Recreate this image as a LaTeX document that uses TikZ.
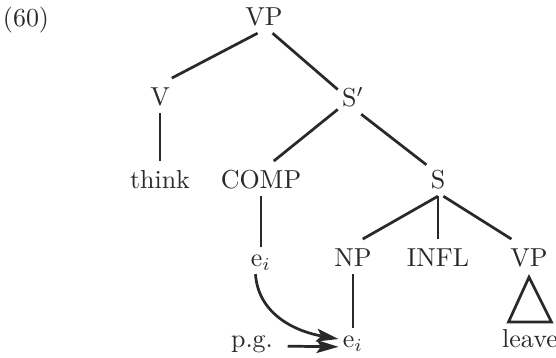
\documentclass[tikz,border=0pt]{standalone}
\usetikzlibrary{arrows.meta,calc}
\definecolor{ink}{gray}{0.16}
\begin{document}
\begin{tikzpicture}[x=0.385pt,y=0.385pt,yscale=-1,xscale=1,
  lbl/.style={anchor=base,inner sep=1.5pt,text height=2.1ex,text depth=.25ex,text=ink},
  lowlbl/.style={lbl,text height=1.4ex},
  edge/.style={draw=ink,line width=1.05pt},
  arr/.style={edge,-{Stealth[length=8.5pt,width=5pt,inset=1.8pt]}}]
\useasboundingbox (0,0) rectangle (556,358);

% Text Node
\draw (26,27) node [anchor=base,text=ink] (ex) {(60)};
% Text Node
\draw (264,26) node [lbl] (vpa) {VP};
% Text Node
\draw (160,106) node [lbl] (v) {V};
% Text Node
\draw (353,107) node [lbl] (sbar) {S$'$};
% Text Node
\draw (160,189) node [lbl] (think) {think};
% Text Node
\draw (261,189) node [lbl] (comp) {COMP};
% Text Node
\draw (438,189) node [lbl] (s) {S};
% Text Node
\draw (261,267) node [lowlbl] (ea) {e$_i$};
% Text Node
\draw (353,267) node [lbl] (np) {NP};
% Text Node
\draw (438,267) node [lbl] (infl) {INFL};
% Text Node
\draw (529,267) node [lbl] (vpb) {VP};
% Text Node
\draw (252,348) node [lowlbl] (pg) {p.g.};
% Text Node
\draw (353,348) node [lowlbl] (eb) {e$_i$};
% Text Node
\draw (530,348) node [lbl] (leave) {leave};

%Straight Lines
\draw [edge] (vpa.-110) -- (v.56);
\draw [edge] (vpa.-64) -- (sbar.155);
\draw [edge] (v.south) -- (think.north);
\draw [edge] (sbar.-140) -- (comp.54);
\draw [edge] (sbar.-65) -- (s.130);
\draw [edge] (comp.south) -- (ea.north);
\draw [edge] (s.south) -- (np.61);
\draw [edge] (s.south) -- (infl.north);
\draw [edge] (s.-73) -- (vpb.135);
\draw [edge] (np.south) -- (eb.north);
%Shape: Triangle
\draw [edge] ($(vpb.south)+(0,3)$) -- ($(leave.north)+(-21.5,2)$) -- ($(leave.north)+(21.5,2)$) -- cycle;
%Curve Lines
\draw [arr] (ea.-112) .. controls +(3,42) and +(-40,-7) .. (eb.170);
%Straight Lines
\draw [arr,shorten <=4pt] (pg.-10) -- (eb.200);

\end{tikzpicture}
\end{document}
